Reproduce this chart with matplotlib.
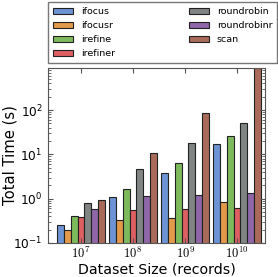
import matplotlib
matplotlib.use("Agg")
import matplotlib.pyplot as plt
import numpy as np

sizes = [r"$10^{7}$", r"$10^{8}$", r"$10^{9}$", r"$10^{10}$"]
methods = ["ifocus", "ifocusr", "irefine", "irefiner", "roundrobin", "roundrobinr", "scan"]
colors = ["#6c93d3", "#e29a4a", "#7dba5b", "#dd5f62", "#808584", "#8f67a9", "#a96a59"]

# total time (s) per method, one value per dataset size
times = {
    "ifocus":      [0.25, 1.09, 3.8, 17.5],
    "ifocusr":     [0.195, 0.33, 0.36, 0.82],
    "irefine":     [0.40, 1.66, 6.5, 26.0],
    "irefiner":    [0.38, 0.56, 0.58, 0.63],
    "roundrobin":  [0.80, 4.6, 18.4, 52.0],
    "roundrobinr": [0.58, 1.17, 1.23, 1.35],
    "scan":        [0.93, 10.9, 87.0, 1500.0],
}

fig = plt.figure(figsize=(2.78, 2.77), dpi=100)
ax = fig.add_axes([0.173, 0.123, 0.781, 0.632])

w = 0.13
x = np.arange(len(sizes))
for j, m in enumerate(methods):
    ax.bar(x + (j - 3) * w, times[m], w, color=colors[j], edgecolor="#222222",
           linewidth=0.8, label=m)

ax.set_yscale("log")
ax.set_ylim(0.1, 900)
ax.set_xlim(-0.63, 3.54)
ax.set_xticks(x)
ax.set_xticklabels(sizes, math_fontfamily="cm", fontsize=9)
ax.tick_params(axis="both", which="both", direction="in", top=True, right=True,
               color="#555555")
ax.tick_params(axis="both", which="major", length=3.5)
ax.tick_params(axis="both", which="minor", length=2)
ax.tick_params(axis="x", pad=2)
ax.tick_params(axis="y", labelsize=8.7, pad=4)
ax.tick_params(axis="x", which="minor", top=False, bottom=False)
for s in ax.spines.values():
    s.set_color("#555555")

ax.set_xlabel("Dataset Size (records)", fontsize=10.2, labelpad=1)
ax.set_ylabel("Total Time (s)", fontsize=10.6)
ax.yaxis.set_label_coords(-0.143, 0.5)

ax.legend(loc="lower left", bbox_to_anchor=(0.0, 1.03, 1.055, 0.3), mode="expand",
          borderaxespad=0, ncol=2, fontsize=6.8, frameon=True, fancybox=False,
          edgecolor="#555555", handlelength=2.1, handleheight=0.6, handletextpad=0.85,
          borderpad=0.5, labelspacing=0.52, columnspacing=1.0)

fig.savefig("out.png", dpi=100)
